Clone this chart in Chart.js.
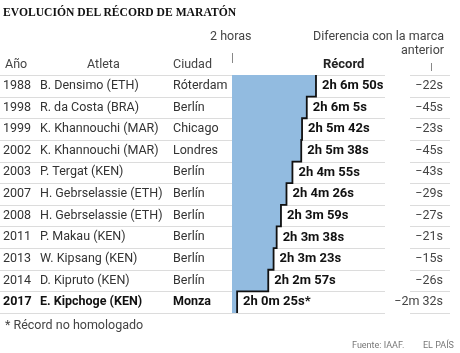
<!DOCTYPE html>
<html lang="es">
    <head>
        <meta charset="UTF-8">
        <title>Evolución del récord de maratón</title>
        <style>
            body {
                margin: 0;
                background: #fff;
                font-family: Roboto, sans-serif;
                color: #222;
            }
            #wrap {
                position: relative;
                width: 460px;
                height: 353px;
                overflow: hidden;
            }
            #chart {
                position: absolute;
                left: 0;
                top: 0;
            }
            .t {
                position: absolute;
                white-space: nowrap;
                font-size: 12.5px;
                line-height: 14px;
            }
            #title {
                left: 3px;
                top: 4px;
                font: bold 13.5px "Liberation Serif", serif;
                transform-origin: left top;
                transform: scaleX(0.86);
                color: #111;
            }
        </style>
    </head>
    <body>
        <div id="wrap">
            <canvas id="chart" width="460" height="353"></canvas>
            <div id="title" class="t">EVOLUCIÓN DEL RÉCORD DE MARATÓN</div>
            <div class="t" style="left:210px; top:29px; color:#444;">2 horas</div>
            <div class="t" style="right:16px; top:29px; text-align:right; color:#444;">Diferencia con la marca<br>anterior</div>
            <div class="t" style="left:5px; top:57px; color:#444;">Año</div>
            <div class="t" style="left:87px; top:57px; color:#444;">Atleta</div>
            <div class="t" style="left:173px; top:57px; color:#444;">Ciudad</div>
            <div class="t" style="left:323px; top:57px; font-weight:bold; font-size:13px;">Récord</div>
            <div class="t" style="left:5px; top:318px; color:#444;">* Récord no homologado</div>
            <div class="t" style="left:352px; top:338px; font-size:9px; color:#777;">Fuente: IAAF.</div>
            <div class="t" style="left:423px; top:338px; font-size:9px; color:#777;">EL PAÍS</div>
        </div>

        <script src="https://cdn.jsdelivr.net/npm/chart.js"></script>
        <script>
            const years = ['1988', '1998', '1999', '2002', '2003', '2007', '2008', '2011', '2013', '2014', '2017'];
            const athletes = ['B. Densimo (ETH)', 'R. da Costa (BRA)', 'K. Khannouchi (MAR)', 'K. Khannouchi (MAR)', 'P. Tergat (KEN)',
                'H. Gebrselassie (ETH)', 'H. Gebrselassie (ETH)', 'P. Makau (KEN)', 'W. Kipsang (KEN)', 'D. Kipruto (KEN)', 'E. Kipchoge (KEN)'];
            const cities = ['Róterdam', 'Berlín', 'Chicago', 'Londres', 'Berlín', 'Berlín', 'Berlín', 'Berlín', 'Berlín', 'Berlín', 'Monza'];
            // segundos por encima de 2 horas
            const secondsOver2h = [410, 365, 342, 338, 295, 266, 239, 218, 203, 177, 25];
            const recordLabels = ['2h 6m 50s', '2h 6m 5s', '2h 5m 42s', '2h 5m 38s', '2h 4m 55s', '2h 4m 26s',
                '2h 3m 59s', '2h 3m 38s', '2h 3m 23s', '2h 2m 57s', '2h 0m 25s*'];
            const diffs = ['−22s', '−45s', '−23s', '−45s', '−43s', '−29s', '−27s', '−21s', '−15s', '−26s', '−2m 32s'];

            const tablePlugin = {
                id: 'table',
                beforeDatasetsDraw(chart) {
                    const ctx = chart.ctx;
                    const bars = chart.getDatasetMeta(0).data;
                    ctx.save();
                    ctx.strokeStyle = '#dcdcdc';
                    ctx.lineWidth = 1;
                    const ys = bars.map(b => b.y - b.height / 2);
                    ys.push(bars[bars.length - 1].y + bars[bars.length - 1].height / 2);
                    ys.forEach(y => {
                        const yy = Math.round(y) + 0.5;
                        ctx.beginPath();
                        ctx.moveTo(0, yy);
                        ctx.lineTo(385, yy);
                        ctx.moveTo(410, yy);
                        ctx.lineTo(450, yy);
                        ctx.stroke();
                    });
                    // marcas de "2 horas" y "anterior"
                    ctx.strokeStyle = '#888';
                    const x0 = chart.scales.x.getPixelForValue(0);
                    ctx.beginPath();
                    ctx.moveTo(Math.round(x0) + 0.5, 53);
                    ctx.lineTo(Math.round(x0) + 0.5, 63);
                    ctx.moveTo(431.5, 63);
                    ctx.lineTo(431.5, 71);
                    ctx.stroke();
                    ctx.restore();
                },
                afterDatasetsDraw(chart) {
                    const ctx = chart.ctx;
                    const bars = chart.getDatasetMeta(0).data;
                    ctx.save();
                    // escalón negro
                    ctx.strokeStyle = '#111';
                    ctx.lineWidth = 1.8;
                    ctx.beginPath();
                    bars.forEach((b, i) => {
                        const top = b.y - b.height / 2;
                        const bottom = b.y + b.height / 2;
                        if (i === 0) ctx.moveTo(b.x, top);
                        else ctx.lineTo(b.x, top);
                        ctx.lineTo(b.x, bottom);
                    });
                    ctx.stroke();

                    ctx.textBaseline = 'middle';
                    bars.forEach((b, i) => {
                        const last = i === bars.length - 1;
                        ctx.fillStyle = last ? '#111' : '#333';
                        ctx.font = (last ? 'bold ' : '') + '12.5px Roboto';
                        ctx.textAlign = 'left';
                        ctx.fillText(years[i], 3, b.y);
                        ctx.fillText(athletes[i], 40, b.y);
                        ctx.fillText(cities[i], 173, b.y);
                        ctx.fillStyle = '#111';
                        ctx.font = 'bold 13px Roboto';
                        ctx.fillText(recordLabels[i], b.x + 6, b.y);
                        ctx.fillStyle = '#444';
                        ctx.font = '12.5px Roboto';
                        ctx.textAlign = 'right';
                        ctx.fillText(diffs[i], 443, b.y);
                    });
                    ctx.restore();
                }
            };

            new Chart(document.getElementById('chart'), {
                type: 'bar',
                data: {
                    labels: years,
                    datasets: [{
                        data: secondsOver2h,
                        backgroundColor: '#92bbe0',
                        borderWidth: 0,
                        barPercentage: 1,
                        categoryPercentage: 1
                    }]
                },
                options: {
                    indexAxis: 'y',
                    responsive: false,
                    animation: false,
                    layout: {
                        padding: { left: 232, right: 8, top: 75, bottom: 40 }
                    },
                    scales: {
                        x: { display: false, min: 0, max: 1074 },
                        y: { display: false }
                    },
                    plugins: {
                        legend: { display: false },
                        tooltip: { enabled: false }
                    }
                },
                plugins: [tablePlugin]
            });
        </script>
    </body>
</html>
